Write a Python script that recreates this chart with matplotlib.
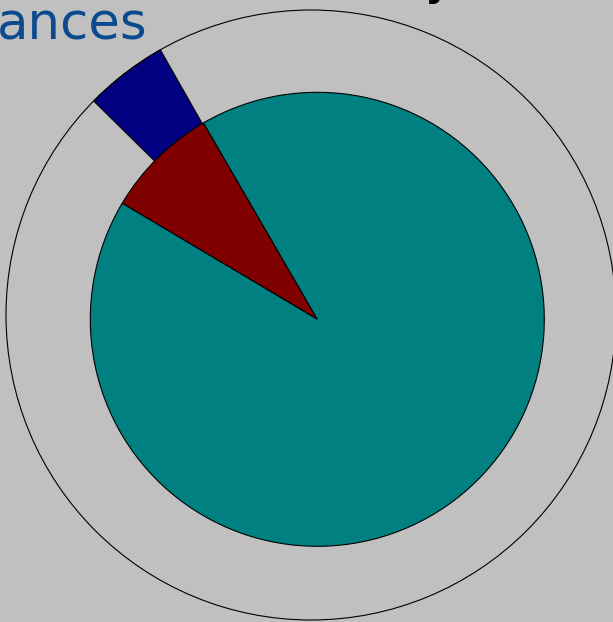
import matplotlib
matplotlib.use('Agg')
import matplotlib.pyplot as plt
from matplotlib.patches import Circle

# inner pie: teal share and maroon share (percent)
pie_labels = ['Maroon', 'Teal']
pie_values = [8.1, 91.9]
pie_colors = ['#800000', '#008080']

# outer ring: navy share, rest left blank
ring_labels = ['Navy', 'Rest']
ring_values = [4.4, 95.6]
ring_colors = ['#000080', 'none']

W, H = 613, 622
fig = plt.figure(figsize=(W / 100, H / 100), dpi=100)
fig.patch.set_facecolor('#c0c0c0')
ax = fig.add_axes([0, 0, 1, 1])

# outer ring (pixel coords, y measured from bottom)
ring_c = (311, H - 315)
ring_r = 305
wedges, _ = ax.pie(ring_values, colors=ring_colors, startangle=119.6,
                   radius=ring_r, center=ring_c, frame=True,
                   wedgeprops=dict(width=ring_r - 219, edgecolor='black', linewidth=0.8))
wedges[1].set_edgecolor('none')
ax.add_patch(Circle(ring_c, ring_r, fill=False, edgecolor='black', linewidth=0.8))

# inner pie
ax.pie(pie_values, colors=pie_colors, startangle=120.1, radius=227,
       center=(317.3, H - 319.3), frame=True,
       wedgeprops=dict(edgecolor='black', linewidth=0.8))

ax.set_xlim(0, W)
ax.set_ylim(0, H)
ax.set_aspect('equal')
ax.axis('off')

# cropped title fragments
ax.text(-3, H - 39, 'ances', color='#0b4a8e', fontsize=37,
        fontfamily='DejaVu Sans', ha='left', va='baseline')
ax.text(424, H + 7, 'y', color='black', fontsize=37,
        fontfamily='DejaVu Sans', ha='left', va='baseline')

fig.savefig('out.png', dpi=100, facecolor=fig.get_facecolor())
